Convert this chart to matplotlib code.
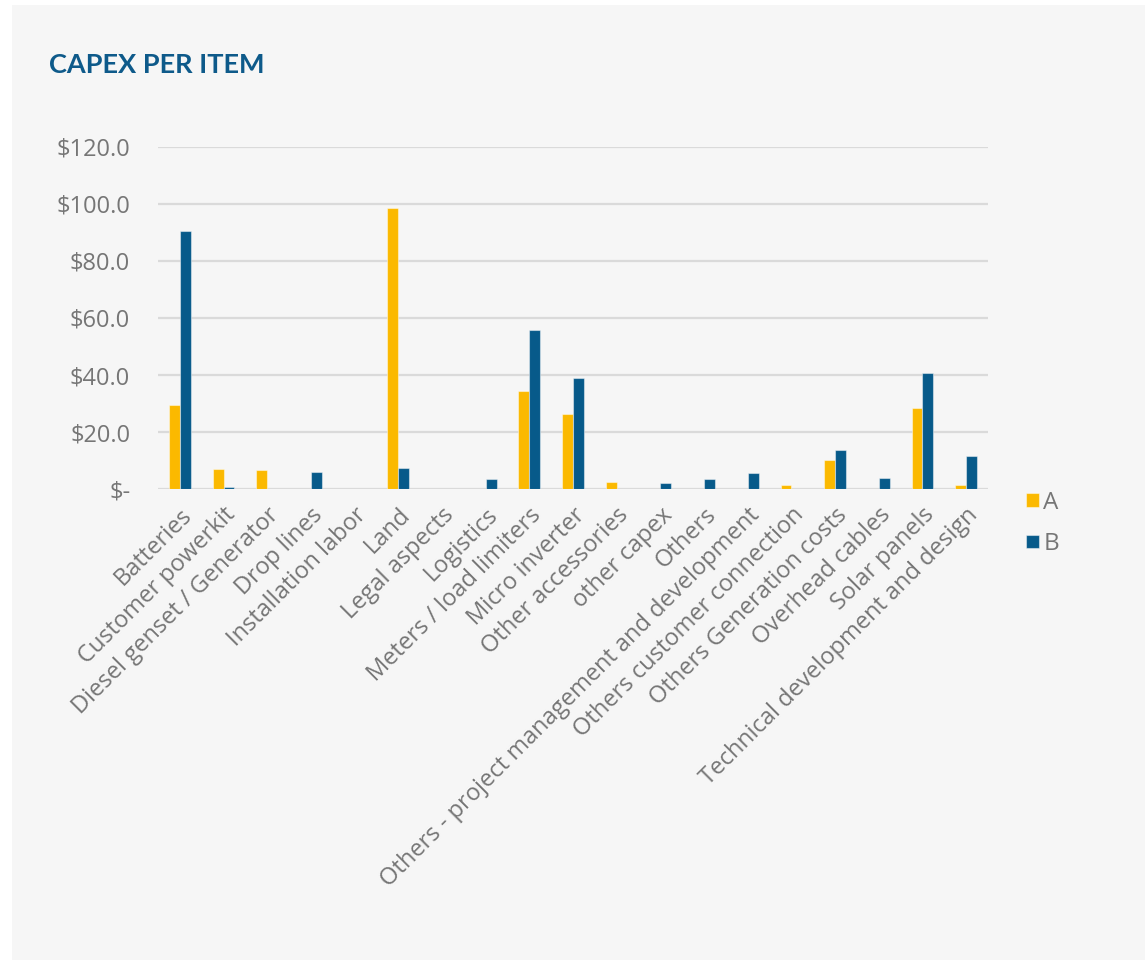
import numpy as np
import matplotlib
matplotlib.use("Agg")
import matplotlib.pyplot as plt
from matplotlib.patches import Rectangle
from matplotlib.ticker import FuncFormatter

plt.rcParams['font.family'] = ['Open Sans', 'DejaVu Sans']

# Capex per item, two scenarios
items = [
    "Batteries", "Customer powerkit", "Diesel genset / Generator", "Drop lines",
    "Installation labor", "Land", "Legal aspects", "Logistics",
    "Meters / load limiters", "Micro inverter", "Other accessories", "other capex",
    "Others", "Others - project management and development",
    "Others customer connection", "Others Generation costs", "Overhead cables",
    "Solar panels", "Technical development and design",
]
series_a = [29.4, 7.2, 6.9, 0.0, 0.0, 98.4, 0.2, 0.0, 34.6, 26.5, 2.4, 0.0,
            0.0, 0.1, 1.6, 10.3, 0.2, 28.5, 1.5]
series_b = [90.5, 0.8, 0.0, 6.1, 0.0, 7.6, 0.0, 3.6, 55.7, 38.9, 0.0, 2.3,
            3.5, 5.7, 0.0, 13.9, 3.8, 40.6, 11.6]
y_ticks = [0, 20, 40, 60, 80, 100, 120]

color_a = "#FBB900"
color_b = "#075A8A"
text_gray = "#767676"
panel_bg = "#F6F6F6"

fig = plt.figure(figsize=(11.45, 9.6), dpi=100, facecolor="white")
fig.patches.append(Rectangle((12 / 1145, 0), 1 - 12 / 1145, 1 - 5 / 960,
                             transform=fig.transFigure, facecolor=panel_bg,
                             edgecolor="none", zorder=-10))

ax = fig.add_axes([158 / 1145, 1 - 489.3 / 960, 830 / 1145, (489.3 - 146.7) / 960])
ax.set_facecolor("none")

x = np.arange(len(items))
w = 0.25
ax.bar(x - w / 2, series_a, w, color=color_a, edgecolor=(1, 1, 1, 0.45),
       linewidth=0.8, label="A", zorder=3)
ax.bar(x + w / 2, series_b, w, color=color_b, edgecolor=(1, 1, 1, 0.45),
       linewidth=0.8, label="B", zorder=3)

ax.set_xlim(-0.5, len(items) - 0.5)
ax.set_ylim(0, 120)
ax.set_yticks(y_ticks)
ax.yaxis.set_major_formatter(FuncFormatter(lambda v, p: "$-" if v == 0 else f"${v:.1f}"))
ax.grid(axis="y", color="#DADADA", linewidth=1.6, zorder=0)
ax.set_axisbelow(True)
for s in ax.spines.values():
    s.set_visible(False)
ax.tick_params(axis="both", length=0, labelsize=17, labelcolor=text_gray)
ax.tick_params(axis="y", pad=20)
ax.set_xticks(x)
ax.set_xticklabels(items, rotation=45, ha="right", va="top", rotation_mode="anchor")
ax.tick_params(axis="x", pad=10)

fig.text(49 / 1145, 1 - 65 / 960, "CAPEX PER ITEM", fontsize=19.5, fontweight="bold",
         family=["Lato", "DejaVu Sans"], color="#0E5A8A", va="center", ha="left")

leg = ax.legend(loc="center left", bbox_to_anchor=(1.02, -0.1), frameon=False,
                fontsize=17.5, handlelength=0.5, handleheight=0.5,
                handletextpad=0.2, labelspacing=0.7, labelcolor=text_gray)

fig.savefig("out.png", dpi=100, facecolor="white")
